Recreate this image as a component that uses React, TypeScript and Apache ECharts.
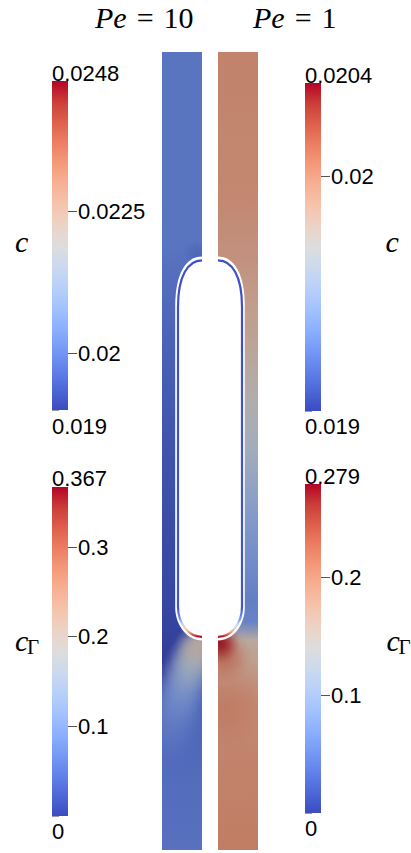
import React, { useEffect, useRef } from "react";
import * as echarts from "echarts";

// ---------------- data ----------------
const PECLET = ["10", "1"];
const CHANNEL_LENGTH = 19.95; // channel length in channel half-widths

// colour-bar ranges
const C_RANGE_PE10 = [0.019, 0.0248];
const C_RANGE_PE1 = [0.019, 0.0204];
const CG_RANGE_PE10 = [0, 0.367];
const CG_RANGE_PE1 = [0, 0.279];

// labelled ticks
const C_TICKS_PE10 = [0.02, 0.0225];
const C_TICKS_PE1 = [0.02];
const CG_TICKS_PE10 = [0.1, 0.2, 0.3];
const CG_TICKS_PE1 = [0.1, 0.2];

// minor tick steps
const C_MINOR_PE10 = 0.00025;
const C_MINOR_PE1 = 0.0001;
const CG_MINOR = 0.01;

// range labels (top, bottom)
const C_END_LABELS_PE10 = ["0.0248", "0.019"];
const C_END_LABELS_PE1 = ["0.0204", "0.019"];
const CG_END_LABELS_PE10 = ["0.367", "0"];
const CG_END_LABELS_PE1 = ["0.279", "0"];

// concentration c along the wall side: [z, c]
const PE10_C_WALL = [
  [19.95, 0.01999], [15.25, 0.01999], [14.25, 0.01987], [13.0, 0.0197],
  [10.75, 0.01946], [8.25, 0.01929], [5.75, 0.01917], [4.75, 0.01935],
  [3.25, 0.0197], [1.5, 0.01987], [0, 0.01993],
];
const PE1_C_WALL = [
  [19.95, 0.020008], [16.25, 0.01998], [14.75, 0.019924], [13.75, 0.019868],
  [12.5, 0.019798], [11.25, 0.019714], [10.0, 0.019616], [8.75, 0.01949],
  [7.5, 0.019378], [6.25, 0.019294], [5.7, 0.019308], [5.25, 0.01977],
  [4.625, 0.019868], [3.75, 0.019938], [2.25, 0.020008], [0, 0.020036],
];
// local patches of c: [r, z, radius, c, opacity]
const PE10_C_PATCHES = [
  [0.95, 4.75, 1.4, 0.01900, 0.9],
  [0.12, 14.9, 0.4, 0.01935, 0.35],
  [0.85, 2.8, 0.85, 0.01999, 0.6],
  [0.76, 3.15, 0.8, 0.02012, 0.6],
  [0.675, 3.5, 0.8, 0.02028, 0.65],
  [0.575, 3.8, 0.75, 0.02048, 0.7],
  [0.475, 4.1, 0.75, 0.02074, 0.7],
  [0.375, 4.38, 0.7, 0.02108, 0.75],
  [0.275, 4.65, 0.7, 0.02144, 0.8],
  [0.175, 4.9, 0.65, 0.02182, 0.85],
  [0.075, 5.125, 0.6, 0.02219, 0.95],
];
const PE1_C_PATCHES = [
  [0.2, 3.6, 1.3, 0.02009, 0.6],
  [0.15, 4.85, 0.7, 0.020148, 0.8],
  [0.05, 5.17, 0.5, 0.020358, 1],
];

// bubble: [half-width, z top, top cap height, z bottom, bottom cap height]
const BUBBLE_OUTLINE = [0.67, 14.84, 1.24, 5.24, 0.83];
const BUBBLE_INTERFACE = [0.6, 14.74, 1.16, 5.33, 0.75];

// surfactant concentration on the interface: [z, cΓ]
const PE10_CG_INTERFACE = [
  [14.74, 0.004], [6.05, 0.008], [5.8, 0.06], [5.65, 0.14], [5.55, 0.19],
  [5.45, 0.26], [5.38, 0.33], [5.33, 0.365],
];
const PE1_CG_INTERFACE = [
  [14.74, 0.003], [6.05, 0.006], [5.8, 0.045], [5.65, 0.11], [5.55, 0.15],
  [5.45, 0.2], [5.38, 0.25], [5.33, 0.275],
];

// ---------------- colour map (cool to warm) ----------------
const COOL_WARM = [
  [59, 76, 192], [77, 104, 215], [98, 130, 234], [119, 154, 247], [141, 176, 254],
  [163, 194, 255], [184, 208, 249], [204, 217, 238], [221, 221, 221], [236, 211, 197],
  [245, 196, 173], [247, 177, 148], [244, 154, 123], [236, 127, 99], [222, 96, 77],
  [203, 62, 56], [180, 4, 38],
];
const FIELD_SHADE = 0.79;

function cmap(t: number, shade = 1, alpha = 1) {
  const tt = Math.max(0, Math.min(1, t)) * (COOL_WARM.length - 1);
  const i = Math.min(COOL_WARM.length - 2, Math.floor(tt));
  const f = tt - i;
  const a = COOL_WARM[i], b = COOL_WARM[i + 1];
  const c = [0, 1, 2].map((k) => Math.round((a[k] + (b[k] - a[k]) * f) * shade));
  return `rgba(${c[0]},${c[1]},${c[2]},${alpha})`;
}
const norm = (v: number, range: number[]) => (v - range[0]) / (range[1] - range[0]);
const clamp01 = (v: number) => Math.max(0, Math.min(1, v));

function minorValues(range: number[], step: number) {
  const out: number[] = [];
  const n = Math.floor((range[1] - range[0]) / step + 1e-6);
  for (let i = 0; i <= n; i++) out.push(+(range[0] + i * step).toFixed(6));
  return out;
}

// ---------------- layout ----------------
const FIELD_GRIDS = [
  { left: 162, top: 52, width: 40, height: 798 },
  { left: 218, top: 52, width: 40, height: 798 },
];
const BARS = [
  { grid: { left: 52, top: 81, width: 16, height: 329 }, range: C_RANGE_PE10, ticks: C_TICKS_PE10, step: C_MINOR_PE10, ends: C_END_LABELS_PE10, endY: [73, 426] },
  { grid: { left: 305, top: 83, width: 16, height: 328 }, range: C_RANGE_PE1, ticks: C_TICKS_PE1, step: C_MINOR_PE1, ends: C_END_LABELS_PE1, endY: [75, 426] },
  { grid: { left: 52, top: 487, width: 16, height: 329 }, range: CG_RANGE_PE10, ticks: CG_TICKS_PE10, step: CG_MINOR, ends: CG_END_LABELS_PE10, endY: [478, 831] },
  { grid: { left: 305, top: 484, width: 16, height: 329 }, range: CG_RANGE_PE1, ticks: CG_TICKS_PE1, step: CG_MINOR, ends: CG_END_LABELS_PE1, endY: [476, 828] },
];

const SANS = '"Liberation Sans", Arial, sans-serif';
const SERIF = '"Liberation Serif", "Times New Roman", serif';

function bubblePath(api: any, shape: number[], closed: boolean) {
  const [a, top, hTop, bottom, hBot] = shape;
  const k = 0.5523;
  const P = (r: number, z: number) => {
    const p = api.coord([r, z]);
    return `${p[0].toFixed(2)},${p[1].toFixed(2)}`;
  };
  let d =
    `M${P(0, top)} C${P(0.6 * a, top)} ${P(a, top - 0.35 * hTop)} ${P(a, top - hTop)} ` +
    `L${P(a, bottom + hBot)} C${P(a, bottom + hBot * (1 - k))} ${P(a * k, bottom)} ${P(0, bottom)}`;
  if (closed) d += " Z";
  return d;
}

function fieldSeries(idx: number, wall: number[][], patches: number[][], cgProfile: number[][], cRange: number[], cgRange: number[]) {
  const common = { type: "custom", xAxisIndex: idx, yAxisIndex: idx, clip: true, silent: true, animation: false };
  return [
    {
      ...common,
      name: `field-${idx}`,
      data: [[0, 0]],
      renderItem: (_p: any, api: any) => {
        const a = api.coord([0, CHANNEL_LENGTH]);
        const b = api.coord([1, 0]);
        const x = Math.min(a[0], b[0]);
        const w = Math.abs(a[0] - b[0]);
        const y = a[1];
        const h = b[1] - a[1];
        const stops = wall
          .map(([z, c]) => ({ offset: clamp01((api.coord([0, z])[1] - y) / h), color: cmap(norm(c, cRange), FIELD_SHADE) }))
          .sort((p, q) => p.offset - q.offset);
        return {
          type: "rect",
          shape: { x, y, width: w, height: h },
          style: { fill: new echarts.graphic.LinearGradient(0, y, 0, y + h, stops, true) },
        };
      },
    },
    {
      ...common,
      name: `patches-${idx}`,
      data: patches,
      renderItem: (_p: any, api: any) => {
        const c = api.coord([api.value(0), api.value(1)]);
        const rad = Math.abs(api.size([api.value(2), 0])[0]);
        const t = norm(api.value(3), cRange);
        const op = api.value(4);
        const stops = [
          { offset: 0, color: cmap(t, FIELD_SHADE, op) },
          { offset: 0.25, color: cmap(t, FIELD_SHADE, op * 0.85) },
          { offset: 0.5, color: cmap(t, FIELD_SHADE, op * 0.55) },
          { offset: 0.75, color: cmap(t, FIELD_SHADE, op * 0.2) },
          { offset: 1, color: cmap(t, FIELD_SHADE, 0) },
        ];
        return {
          type: "circle",
          shape: { cx: c[0], cy: c[1], r: rad },
          style: { fill: new echarts.graphic.RadialGradient(c[0], c[1], rad, stops, true) },
        };
      },
    },
    {
      ...common,
      name: `bubble-${idx}`,
      data: [[0, 0]],
      renderItem: (_p: any, api: any) => {
        const yTop = api.coord([0, BUBBLE_INTERFACE[1]])[1];
        const yBot = api.coord([0, BUBBLE_INTERFACE[3]])[1];
        const stops = cgProfile
          .map(([z, v]) => ({ offset: clamp01((api.coord([0, z])[1] - yTop) / (yBot - yTop)), color: cmap(norm(v, cgRange)) }))
          .sort((p, q) => p.offset - q.offset);
        return {
          type: "group",
          children: [
            { type: "path", shape: { pathData: bubblePath(api, BUBBLE_OUTLINE, true) }, style: { fill: "#ffffff", stroke: "none" } },
            {
              type: "path",
              shape: { pathData: bubblePath(api, BUBBLE_INTERFACE, false) },
              style: { fill: "none", stroke: new echarts.graphic.LinearGradient(0, yTop, 0, yBot, stops, true), lineWidth: 2.2 },
            },
          ],
        };
      },
    },
  ];
}

function buildOption() {
  const grid: any[] = [...FIELD_GRIDS, ...BARS.map((b) => b.grid)];
  const xAxis: any[] = grid.map((_g, i) => ({ gridIndex: i, type: "value", min: 0, max: 1, show: false, inverse: i === 0 }));
  const yAxis: any[] = [
    { gridIndex: 0, type: "value", min: 0, max: CHANNEL_LENGTH, show: false },
    { gridIndex: 1, type: "value", min: 0, max: CHANNEL_LENGTH, show: false },
  ];
  const series: any[] = [
    ...fieldSeries(0, PE10_C_WALL, PE10_C_PATCHES, PE10_CG_INTERFACE, C_RANGE_PE10, CG_RANGE_PE10),
    ...fieldSeries(1, PE1_C_WALL, PE1_C_PATCHES, PE1_CG_INTERFACE, C_RANGE_PE1, CG_RANGE_PE1),
  ];
  const graphic: any[] = [];

  BARS.forEach((bar, k) => {
    const gi = 2 + k;
    const minorIdx = yAxis.length;
    yAxis.push({
      gridIndex: gi, type: "value", min: bar.range[0], max: bar.range[1], position: "right",
      axisLine: { show: false }, splitLine: { show: false },
      axisTick: { show: true, customValues: minorValues(bar.range, bar.step), length: 7, lineStyle: { color: "#9a9a9a", width: 1 } },
      axisLabel: { show: false },
    });
    yAxis.push({
      gridIndex: gi, type: "value", min: bar.range[0], max: bar.range[1], position: "right", offset: -8,
      axisLine: { show: false }, splitLine: { show: false },
      axisTick: { show: true, customValues: bar.ticks, length: 17, lineStyle: { color: "#555555", width: 1 } },
      axisLabel: {
        show: true, customValues: bar.ticks, margin: 18, color: "#000", fontSize: 22, fontFamily: SANS,
        formatter: (v: number) => String(v),
      },
    });
    const range = bar.range;
    series.push({
      type: "custom", xAxisIndex: gi, yAxisIndex: minorIdx, silent: true, animation: false,
      data: [[0, range[0]]],
      renderItem: (_p: any, api: any) => {
        const a = api.coord([0, range[1]]);
        const b = api.coord([1, range[0]]);
        const n = COOL_WARM.length;
        const stops = COOL_WARM.map((_c, i) => ({ offset: 1 - i / (n - 1), color: cmap(i / (n - 1)) })).reverse();
        return {
          type: "rect",
          shape: { x: a[0], y: a[1], width: b[0] - a[0], height: b[1] - a[1] },
          style: { fill: new echarts.graphic.LinearGradient(0, a[1], 0, b[1], stops, true) },
        };
      },
    });
    graphic.push(
      { type: "text", x: bar.grid.left, y: bar.endY[0], style: { text: bar.ends[0], font: `22px ${SANS}`, fill: "#000", align: "left", verticalAlign: "middle" } },
      { type: "text", x: bar.grid.left, y: bar.endY[1], style: { text: bar.ends[1], font: `22px ${SANS}`, fill: "#000", align: "left", verticalAlign: "middle" } },
    );
  });

  const rich = {
    i: { fontFamily: SERIF, fontStyle: "italic", fontSize: 30, fill: "#000" },
    o: { fontFamily: SERIF, fontSize: 30, fill: "#000", padding: [0, 10] },
    n: { fontFamily: SERIF, fontSize: 30, fill: "#000" },
  };
  graphic.push(
    { type: "text", x: 95, y: 17, style: { text: `{i|Pe}{o|=}{n|${PECLET[0]}}`, rich, align: "left", verticalAlign: "middle" } },
    { type: "text", x: 253, y: 17, style: { text: `{i|Pe}{o|=}{n|${PECLET[1]}}`, rich, align: "left", verticalAlign: "middle" } },
    { type: "text", x: 15, y: 241.5, style: { text: "c", font: `italic 30px ${SERIF}`, fill: "#000", verticalAlign: "middle" } },
    { type: "text", x: 385.5, y: 241.5, style: { text: "c", font: `italic 30px ${SERIF}`, fill: "#000", verticalAlign: "middle" } },
    { type: "text", x: 15, y: 640, style: { text: "c", font: `italic 30px ${SERIF}`, fill: "#000", verticalAlign: "middle" } },
    { type: "text", x: 27, y: 647, style: { text: "Γ", font: `21px ${SERIF}`, fill: "#000", verticalAlign: "middle" } },
    { type: "text", x: 386.5, y: 640, style: { text: "c", font: `italic 30px ${SERIF}`, fill: "#000", verticalAlign: "middle" } },
    { type: "text", x: 398.5, y: 647, style: { text: "Γ", font: `21px ${SERIF}`, fill: "#000", verticalAlign: "middle" } },
  );

  return { animation: false, backgroundColor: "#ffffff", grid, xAxis, yAxis, series, graphic };
}

export default function App() {
  const ref = useRef<HTMLDivElement>(null);
  useEffect(() => {
    if (!ref.current) return;
    const chart = echarts.init(ref.current, null, { renderer: "svg" });
    chart.setOption(buildOption() as any);
    return () => chart.dispose();
  }, []);
  return <div ref={ref} style={{ position: "fixed", left: 0, top: 0, width: 411, height: 853 }} />;
}
